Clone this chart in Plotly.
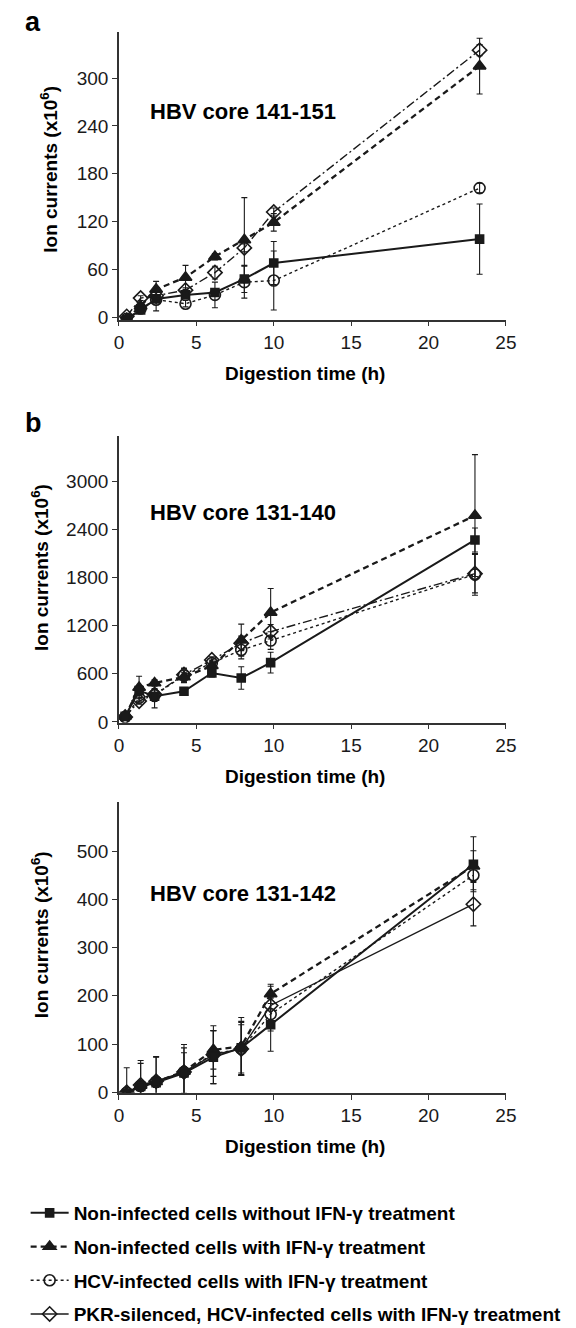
import plotly.graph_objects as go

W, H = 576, 1328

# ---------------- data ----------------
series_names = [
    "Non-infected cells without IFN-γ treatment",
    "Non-infected cells with IFN-γ treatment",
    "HCV-infected cells with IFN-γ treatment",
    "PKR-silenced, HCV-infected cells with IFN-γ treatment",
]

# Panel a : HBV core 141-151
t_a = [0.5, 1.4, 2.4, 4.3, 6.2, 8.1, 10.0, 23.3]
sq_a = [-3, 9, 23, 28, 31, 48, 68, 98]
sq_a_err = [1, 2, 4, 4, 5, 17, 27, 44]
tri_a = [-2, 14, 35, 50, 76, 97, 119, 315]
tri_a_err = [1, 3, 10, 15, 4, 53, 11, 35]
cir_a = [-2, 11, 22, 17, 28, 44, 46, 162]
cir_a_err = [1, 2, 14, 4, 16, 20, 37, 6]
dia_a = [1, 24, 27, 34, 56, 87, 132, 335]
dia_a_err = [1, 3, 4, 3, 8, 5, 5, 7]

# Panel b : HBV core 131-140
t_b = [0.4, 1.3, 2.3, 4.2, 6.0, 7.9, 9.8, 23.0]
sq_b = [70, 390, 320, 383, 610, 548, 740, 2270]
sq_b_err = [20, 60, 145, 40, 50, 140, 130, 150]
tri_b = [70, 430, 486, 560, 700, 1020, 1365, 2575]
tri_b_err = [20, 140, 40, 60, 60, 200, 300, 760]
cir_b = [60, 300, 335, 580, 735, 897, 1015, 1840]
cir_b_err = [15, 50, 80, 90, 50, 110, 110, 260]
dia_b = [60, 260, 341, 590, 774, 980, 1125, 1850]
dia_b_err = [15, 40, 60, 80, 40, 90, 90, 240]

# Panel c : HBV core 131-142
t_c = [0.5, 1.4, 2.4, 4.2, 6.1, 7.9, 9.8, 22.9]
sq_c = [-2, 12, 20, 40, 73, 92, 140, 473]
sq_c_err = [3, 10, 10, 42, 55, 55, 55, 57]
tri_c = [-1, 14, 22, 43, 88, 95, 204, 469]
tri_c_err = [3, 10, 10, 10, 40, 60, 20, 32]
cir_c = [-1, 13, 22, 42, 80, 90, 162, 450]
cir_c_err = [52, 53, 52, 57, 47, 55, 35, 30]
dia_c = [0, 15, 23, 42, 78, 90, 180, 390]
dia_c_err = [3, 45, 50, 50, 60, 50, 40, 45]

panel_titles = ["HBV core 141-151", "HBV core 131-140", "HBV core 131-142"]
y_ticks_a = [0, 60, 120, 180, 240, 300]
y_ticks_b = [0, 600, 1200, 1800, 2400, 3000]
y_ticks_c = [0, 100, 200, 300, 400, 500]
x_ticks = [0, 5, 10, 15, 20, 25]

# ---------------- styling ----------------
FONT = "Arial, 'Liberation Sans', sans-serif"
INK = "#1a1a1a"
AX = "#333333"
FS = 19

def px_x(p):
    return p / W

def px_y(p):
    return 1 - p / H

panels = [
    dict(top=24, bottom=314, yr=[-3, 358], yt=y_ticks_a, t=t_a,
         data=[(sq_a, sq_a_err), (tri_a, tri_a_err), (cir_a, cir_a_err), (dia_a, dia_a_err)],
         dia_dash="9px,3px,2px,3px"),
    dict(top=431, bottom=720, yr=[-8, 3570], yt=y_ticks_b, t=t_b,
         data=[(sq_b, sq_b_err), (tri_b, tri_b_err), (cir_b, cir_b_err), (dia_b, dia_b_err)],
         dia_dash="9px,3px,2px,3px"),
    dict(top=800, bottom=1093, yr=[-1, 602], yt=y_ticks_c, t=t_c,
         data=[(sq_c, sq_c_err), (tri_c, tri_c_err), (cir_c, cir_c_err), (dia_c, dia_c_err)],
         dia_dash="solid"),
]
XL, XR = 109, 507

styles = [
    dict(symbol="square", size=8, width=2.0, dash="solid"),
    dict(symbol="triangle-up", size=11, width=2.3, dash="6px,4px"),
    dict(symbol="circle-open", size=11, width=1.4, dash="dot"),
    dict(symbol="diamond-open", size=11, width=1.4, dash=None),
]

fig = go.Figure()
draw_order = [3, 2, 1, 0]

for pi, p in enumerate(panels):
    sfx = "" if pi == 0 else str(pi + 1)
    for si in draw_order:
        st = styles[si]
        vals, errs = p["data"][si]
        dash = st["dash"] if st["dash"] is not None else p["dia_dash"]
        fig.add_trace(go.Scatter(
            x=p["t"], y=vals,
            xaxis="x" + sfx, yaxis="y" + sfx,
            mode="lines+markers",
            name="<b>" + series_names[si] + "</b>",
            legendgroup="g%d" % si,
            legendrank=si + 1,
            showlegend=(pi == 2),
            line=dict(color=INK, width=st["width"], dash=dash),
            marker=dict(symbol=st["symbol"], size=st["size"], color=INK,
                        line=dict(color=INK, width=1.6)),
            error_y=dict(type="data", array=errs, visible=True, color=INK,
                         thickness=1.1, width=3),
        ))

layout = dict(
    width=W, height=H,
    margin=dict(l=0, r=0, t=0, b=0),
    paper_bgcolor="white", plot_bgcolor="white",
    font=dict(family=FONT, size=FS, color=INK),
    showlegend=True,
    legend=dict(x=px_x(13), y=px_y(1195), xanchor="left", yanchor="top",
                font=dict(family=FONT, size=FS, color="black"),
                itemwidth=38,
                tracegroupgap=6, bgcolor="rgba(0,0,0,0)", itemclick=False),
)

annotations = []
for pi, p in enumerate(panels):
    sfx = "" if pi == 0 else str(pi + 1)
    ydom = [px_y(p["bottom"]), px_y(p["top"])]
    layout["xaxis" + sfx] = dict(
        domain=[px_x(XL), px_x(XR)], anchor="y" + sfx, range=[0, 25],
        tickvals=x_ticks, ticks="outside", ticklen=5, tickwidth=1.3, tickcolor=AX,
        showline=True, linecolor=AX, linewidth=1.6, showgrid=False, zeroline=False,
        tickfont=dict(family=FONT, size=FS, color=INK), fixedrange=True,
    )
    layout["yaxis" + sfx] = dict(
        domain=ydom, anchor="x" + sfx, range=p["yr"],
        tickvals=p["yt"], ticks="outside", ticklen=5, tickwidth=1.3, tickcolor=AX,
        showline=True, linecolor=AX, linewidth=1.6, showgrid=False, zeroline=False,
        tickfont=dict(family=FONT, size=FS, color=INK), fixedrange=True,
    )
    annotations.append(dict(
        xref="paper", yref="paper", x=px_x(139), y=px_y([104, 508, 892][pi]),
        xanchor="left", yanchor="middle", showarrow=False,
        text="<b>" + panel_titles[pi] + "</b>",
        font=dict(family=FONT, size=22, color="black")))
    annotations.append(dict(
        xref="paper", yref="paper", x=px_x(300), y=px_y(p["bottom"] + 54),
        xanchor="center", yanchor="middle", showarrow=False,
        text="<b>Digestion time (h)</b>",
        font=dict(family=FONT, size=FS, color="black")))
    annotations.append(dict(
        xref="paper", yref="paper", x=px_x([37, 28, 28][pi]),
        y=px_y([162, 564, 934][pi]),
        xanchor="center", yanchor="middle", showarrow=False, textangle=-90,
        text="<b>Ion currents (x10<sup>6</sup>)</b>",
        font=dict(family=FONT, size=FS, color="black")))

annotations.append(dict(xref="paper", yref="paper", x=px_x(10), y=px_y(14),
                        xanchor="left", yanchor="middle", showarrow=False,
                        text="<b>a</b>", font=dict(family=FONT, size=27, color="black")))
annotations.append(dict(xref="paper", yref="paper", x=px_x(10), y=px_y(418),
                        xanchor="left", yanchor="middle", showarrow=False,
                        text="<b>b</b>", font=dict(family=FONT, size=27, color="black")))
layout["annotations"] = annotations

fig.update_layout(**layout)
fig.write_html("out.html")
